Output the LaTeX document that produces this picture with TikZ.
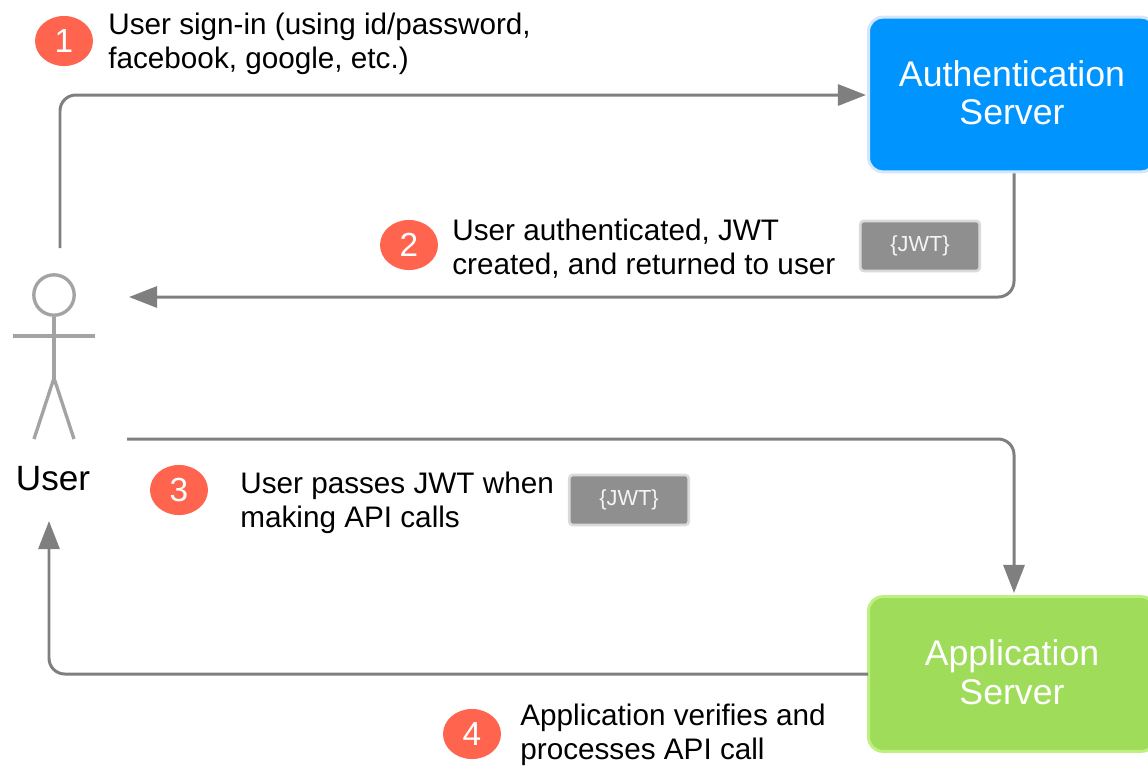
\documentclass[tikz,border=0pt]{standalone}
\usepackage{fontspec}
\setmainfont{Liberation Sans}
\usetikzlibrary{arrows.meta,shapes.geometric}
\definecolor{authblue}{HTML}{0094FF}
\definecolor{authrim}{HTML}{D3E6FB}
\definecolor{appgreen}{HTML}{9EDC5A}
\definecolor{apprim}{HTML}{BDF080}
\definecolor{badgered}{HTML}{FF644E}
\definecolor{flowgray}{HTML}{7F7F7F}
\definecolor{figgray}{HTML}{A3A3A3}
\definecolor{tokengray}{HTML}{8F8F8F}
\definecolor{tokenrim}{HTML}{DADADA}
\tikzset{
	server/.style={rounded corners=8pt, line width=1.7pt, minimum width=163.3pt, minimum height=88pt, text=white, align=center, font=\fontsize{20.3}{22}\selectfont, execute at end node=\rule[-2.3pt]{0pt}{0pt}},
	badge/.style={ellipse, fill=badgered, text=white, minimum width=33pt, minimum height=28.5pt, inner sep=0pt, font=\fontsize{19}{20}\selectfont},
	steptext/.style={anchor=west, inner sep=0pt, align=left, font=\fontsize{16.9}{19.3}\selectfont},
	token/.style={draw=tokenrim, fill=tokengray, rounded corners=2pt, line width=1.5pt, minimum width=68pt, minimum height=28.5pt, inner sep=0pt, text=white!90!tokengray, font=\fontsize{12.4}{14}\selectfont},
	flow/.style={draw=flowgray, line width=1.7pt, rounded corners=9pt, -{Triangle[length=16pt,width=12pt]}},
	figline/.style={draw=figgray, line width=1.9pt},
}
\begin{document}
\begin{tikzpicture}
	[x=0.02cm, y=-0.02cm]
	\useasboundingbox (0,0) rectangle (1148,765);
	\clip (0,0) rectangle (1148,765);
	\node[server, draw=authrim, fill=authblue] (auth) at (1012,94.5) {Authentication\\Server};
	\node[server, draw=apprim, fill=appgreen] (app) at (1012,674) {Application\\Server};
	\node[badge] (b1) at (64,41) {1};
	\node[badge] (b2) at (409,245) {2};
	\node[badge] (b3) at (179,490) {3};
	\node[badge] (b4) at (472,734) {4};
	\node[steptext] (t1) at (108,44) {User sign-in (using id/password,\\facebook, google, etc.)};
	\node[steptext] (t2) at (452,249) {User authenticated, JWT\\created, and returned to user};
	\node[steptext] (t3) at (240,503) {User passes JWT when\\making API calls};
	\node[steptext] (t4) at (520,735) {Application verifies and\\processes API call};
	\node[token] (j1) at (920,246) {\{JWT\}};
	\node[token] (j2) at (629,500) {\{JWT\}};
	\node[circle, figline, minimum size=23pt, inner sep=0pt] (head) at (54,295) {};
	\coordinate (hip) at (54,378);
	\coordinate (armL) at (13,336);
	\coordinate (armR) at (95,336);
	\coordinate (footL) at (34,439);
	\coordinate (footR) at (74,439);
	\node[font=\fontsize{20}{22}\selectfont] (user) at (53,479) {User};
	\draw[figline] (head) -- (hip);
	\draw[figline] (armL) -- (armR);
	\draw[figline] (footL) -- (hip) -- (footR);
	\coordinate (out1) at (60,248);
	\coordinate (in2) at (129,297);
	\coordinate (out3) at (127,439);
	\coordinate (in4) at (49,521);
	\coordinate (turn2) at (1014,297);
	\coordinate (turn3) at (1014,439);
	\coordinate (in1) at (866,95);
	\coordinate (out4) at (868,674);
	\coordinate (in3) at (1014,593);
	\draw[flow] (out1) |- (in1);
	\draw[flow] (auth.south -| turn2) -- (turn2) -- (in2);
	\draw[flow] (out3) -- (turn3) -- (in3);
	\draw[flow] (out4) -| (in4);
\end{tikzpicture}
\end{document}
